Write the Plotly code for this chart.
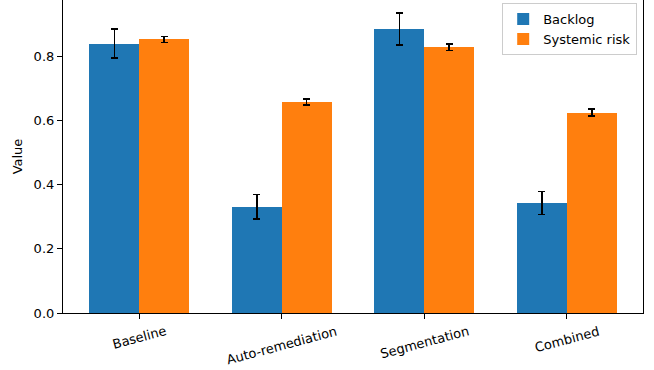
import plotly.graph_objects as go

# Scenario categories and measured values
categories = ["Baseline", "Auto-remediation", "Segmentation", "Combined"]
backlog = [0.840, 0.331, 0.886, 0.343]
backlog_err = [0.045, 0.038, 0.050, 0.036]
systemic = [0.853, 0.658, 0.829, 0.625]
systemic_err = [0.009, 0.010, 0.010, 0.011]
y_ticks = [0.0, 0.2, 0.4, 0.6, 0.8]

bar_w = 0.35
x_idx = list(range(len(categories)))

fig = go.Figure()
fig.add_trace(go.Bar(
    x=[i - bar_w / 2 for i in x_idx], y=backlog, width=bar_w,
    name="Backlog", marker=dict(color="#1f77b4", line=dict(width=0)),
    error_y=dict(type="data", array=backlog_err, color="black", thickness=1.6, width=3.5),
))
fig.add_trace(go.Bar(
    x=[i + bar_w / 2 for i in x_idx], y=systemic, width=bar_w,
    name="Systemic risk", marker=dict(color="#ff7f0e", line=dict(width=0)),
    error_y=dict(type="data", array=systemic_err, color="black", thickness=1.6, width=3.5),
))

# Rotated category labels, centred under each tick
for i, label in zip(x_idx, categories):
    fig.add_annotation(
        x=i, y=0, xref="x", yref="paper", text=label, showarrow=False,
        textangle=-15, xanchor="center", yanchor="top", yshift=-8,
        font=dict(size=13, color="black"),
    )

fig.update_layout(
    width=654, height=370,
    margin=dict(l=63, r=11, t=0, b=57),
    plot_bgcolor="white", paper_bgcolor="white",
    font=dict(family="DejaVu Sans", size=13, color="black"),
    barmode="overlay",
    bargap=0,
    showlegend=True,
    legend=dict(
        x=0.99, y=0.99, xanchor="right", yanchor="top",
        bgcolor="rgba(255,255,255,0.8)", bordercolor="#cccccc", borderwidth=1,
        font=dict(size=13), itemwidth=30, tracegroupgap=0,
    ),
    xaxis=dict(
        range=[-0.535, 3.535], tickmode="array", tickvals=x_idx,
        showticklabels=False,
        ticks="outside", ticklen=5, tickcolor="black",
        showline=True, linecolor="black", linewidth=1.2, mirror=False,
        showgrid=False, zeroline=False,
    ),
    yaxis=dict(
        range=[0, 0.976], tickmode="array", tickvals=y_ticks,
        ticktext=[f"{v:.1f}" for v in y_ticks],
        ticks="outside", ticklen=5, tickcolor="black",
        showline=True, linecolor="black", linewidth=1.2, mirror=True,
        showgrid=False, zeroline=False,
        title=dict(text="Value", font=dict(size=13), standoff=8),
    ),
)

fig.write_html("out.html")
